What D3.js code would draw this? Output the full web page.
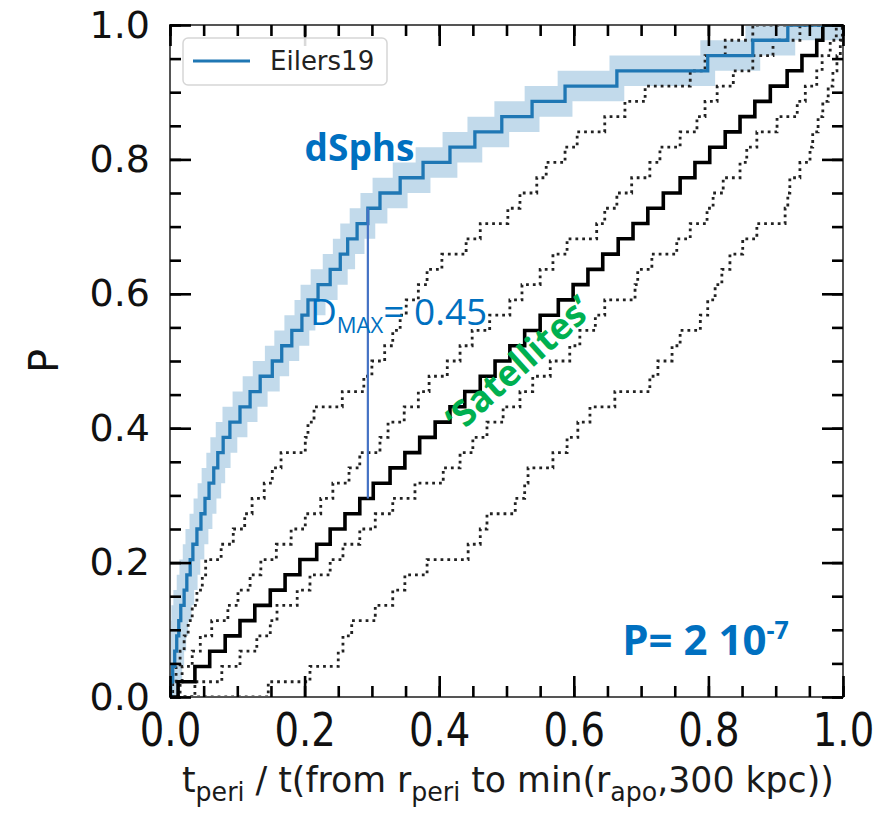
<!DOCTYPE html>
<html>
<head>
<meta charset="utf-8">
<script src="https://cdn.jsdelivr.net/npm/d3@7"></script>
<style>
  body { margin: 0; background: #fff; }
  svg { display: block; }
</style>
</head>
<body>
<svg id="chart"></svg>
<script>
// sorted sample values (x of every step)
const eilers19 = [0.001, 0.004, 0.007, 0.010, 0.013, 0.016, 0.021, 0.025, 0.030, 0.034,
  0.040, 0.046, 0.052, 0.058, 0.065, 0.071, 0.079, 0.089, 0.104, 0.119,
  0.134, 0.152, 0.166, 0.181, 0.196, 0.205, 0.220, 0.238, 0.253, 0.264,
  0.278, 0.294, 0.312, 0.342, 0.376, 0.416, 0.453, 0.493, 0.538, 0.587,
  0.664, 0.799, 0.866, 0.918];

const satellites = [0.012, 0.037, 0.059, 0.082, 0.104, 0.126, 0.149, 0.171, 0.193, 0.218,
  0.238, 0.260, 0.282, 0.302, 0.327, 0.349, 0.371, 0.394, 0.416, 0.438,
  0.461, 0.483, 0.505, 0.527, 0.550, 0.577, 0.599, 0.621, 0.643, 0.666,
  0.688, 0.710, 0.733, 0.758, 0.780, 0.802, 0.825, 0.847, 0.869, 0.892,
  0.917, 0.939, 0.961, 0.970];

// dotted envelopes, left to right
const envelope1 = [0.004, 0.009, 0.015, 0.021, 0.027, 0.033, 0.040, 0.048, 0.053, 0.076,
  0.094, 0.111, 0.122, 0.140, 0.152, 0.165, 0.201, 0.205, 0.214, 0.256,
  0.288, 0.300, 0.319, 0.331, 0.342, 0.351, 0.369, 0.382, 0.404, 0.440,
  0.461, 0.502, 0.520, 0.545, 0.559, 0.587, 0.605, 0.646, 0.676, 0.706,
  0.773, 0.795, 0.825, 0.866];

const envelope2 = [0.015, 0.018, 0.033, 0.045, 0.062, 0.086, 0.101, 0.119, 0.135, 0.158,
  0.180, 0.201, 0.224, 0.242, 0.266, 0.282, 0.312, 0.324, 0.348, 0.369,
  0.385, 0.412, 0.431, 0.449, 0.475, 0.505, 0.523, 0.550, 0.569, 0.590,
  0.634, 0.646, 0.664, 0.686, 0.713, 0.728, 0.758, 0.783, 0.795, 0.813,
  0.837, 0.866, 0.896, 0.936];

const envelope3 = [0.037, 0.077, 0.104, 0.129, 0.149, 0.159, 0.189, 0.208, 0.238, 0.257,
  0.282, 0.305, 0.331, 0.364, 0.406, 0.431, 0.450, 0.471, 0.495, 0.520,
  0.539, 0.565, 0.594, 0.609, 0.632, 0.646, 0.691, 0.695, 0.716, 0.753,
  0.773, 0.798, 0.807, 0.822, 0.847, 0.857, 0.872, 0.902, 0.932, 0.944,
  0.961, 0.969, 0.981, 0.990];

const envelope4 = [0.146, 0.208, 0.250, 0.257, 0.270, 0.305, 0.331, 0.349, 0.382, 0.443,
  0.461, 0.471, 0.513, 0.527, 0.532, 0.569, 0.590, 0.606, 0.624, 0.661,
  0.713, 0.725, 0.746, 0.758, 0.788, 0.799, 0.810, 0.820, 0.832, 0.851,
  0.872, 0.914, 0.918, 0.921, 0.936, 0.951, 0.955, 0.963, 0.970, 0.978,
  0.985, 0.991, 0.996, 0.999];

const majorTicks = [0.0, 0.2, 0.4, 0.6, 0.8, 1.0];
const minorTicks = d3.range(0, 21).map(i => i * 0.05);

const dmaxAt = 0.294;
const dmaxLabel = "0.45";
const pValue = "2 10";
const pExponent = "-7";

// half-width of the Eilers19 band: one step in P, a little in x
const BAND_STEPS = 1;
const BAND_DX = 0.011;

const WIDTH = 895;
const HEIGHT = 814;
const PLOT = { LEFT: 170, RIGHT: 843, TOP: 25, BOTTOM: 697 };

const BLUE = "#1f77b4";
const TEXT_BLUE = "#0070c0";

let svg = d3.select("#chart")
  .attr("width", WIDTH)
  .attr("height", HEIGHT);

let xScale = d3.scaleLinear().domain([0, 1]).range([PLOT.LEFT, PLOT.RIGHT]);
let yScale = d3.scaleLinear().domain([0, 1]).range([PLOT.BOTTOM, PLOT.TOP]);

svg.append("clipPath").attr("id", "plot-clip")
  .append("rect")
  .attr("x", PLOT.LEFT).attr("y", PLOT.TOP)
  .attr("width", PLOT.RIGHT - PLOT.LEFT)
  .attr("height", PLOT.BOTTOM - PLOT.TOP);

/**
 * Turn sorted samples into the vertices of a cumulative step curve
 */
function ecdfPoints(values) {
  let n = values.length;
  let pts = [[0, 0]];
  values.forEach((v, i) => pts.push([v, (i + 1) / n]));
  pts.push([1, 1]);
  return pts;
}

function ecdfAt(values, x) {
  return values.filter(v => v <= x).length / values.length;
}

/**
 * Expand step-after points into plain polygon vertices
 */
function stepVertices(pts) {
  let out = [pts[0]];
  for (let i = 1; i < pts.length; i++) {
    out.push([pts[i][0], pts[i - 1][1]]);
    out.push(pts[i]);
  }
  return out;
}

let stepLine = d3.line()
  .x(d => xScale(d[0]))
  .y(d => yScale(d[1]))
  .curve(d3.curveStepAfter);

let plot = svg.append("g").attr("clip-path", "url(#plot-clip)");

// uncertainty band around the Eilers19 curve
let nE = eilers19.length;
let upper = [[-1, Math.min(BAND_STEPS, nE) / nE]]
  .concat(eilers19.map((v, i) => [v - BAND_DX, Math.min(i + 1 + BAND_STEPS, nE) / nE]), [[1.2, 1]]);
let lower = [[-1, 0]]
  .concat(eilers19.map((v, i) => [v + BAND_DX, Math.max(i + 1 - BAND_STEPS, 0) / nE]), [[1.2, (nE - BAND_STEPS) / nE]]);
let bandPoly = stepVertices(upper).concat(stepVertices(lower).reverse());
plot.append("path")
  .datum(bandPoly)
  .attr("d", d3.line().x(d => xScale(d[0])).y(d => yScale(d[1])))
  .attr("fill", BLUE)
  .attr("fill-opacity", 0.27);

// dotted envelopes
[envelope1, envelope2, envelope3, envelope4].forEach(env => {
  plot.append("path")
    .datum(ecdfPoints(env))
    .attr("d", stepLine)
    .attr("fill", "none")
    .attr("stroke", "#222")
    .attr("stroke-width", 2.8)
    .attr("stroke-dasharray", "2.8 4");
});

// satellites
plot.append("path")
  .datum(ecdfPoints(satellites))
  .attr("d", stepLine)
  .attr("fill", "none")
  .attr("stroke", "#000")
  .attr("stroke-width", 3.6);

// dSphs (Eilers19)
plot.append("path")
  .datum(ecdfPoints(eilers19))
  .attr("d", stepLine)
  .attr("fill", "none")
  .attr("stroke", BLUE)
  .attr("stroke-width", 3.3);

// D_max marker
svg.append("line")
  .attr("x1", xScale(dmaxAt)).attr("x2", xScale(dmaxAt))
  .attr("y1", yScale(ecdfAt(eilers19, dmaxAt)))
  .attr("y2", yScale(ecdfAt(satellites, dmaxAt)))
  .attr("stroke", "#4472c4")
  .attr("stroke-width", 2.2);

// frame
svg.append("rect")
  .attr("x", PLOT.LEFT).attr("y", PLOT.TOP)
  .attr("width", PLOT.RIGHT - PLOT.LEFT)
  .attr("height", PLOT.BOTTOM - PLOT.TOP)
  .attr("fill", "none")
  .attr("stroke", "#555")
  .attr("stroke-width", 2);

// ticks on all four sides, pointing inwards
function addAxis(axisFn, scale, transform, ticks, size, labels) {
  let g = svg.append("g")
    .attr("transform", transform)
    .call(axisFn(scale)
      .tickValues(ticks)
      .tickSize(-size)
      .tickPadding(labels ? 16 : 0)
      .tickFormat(labels ? d3.format(".1f") : ""));
  g.select(".domain").remove();
  g.selectAll(".tick line").attr("stroke", "#000").attr("stroke-width", 2.6);
  return g;
}

addAxis(d3.axisBottom, xScale, `translate(0,${PLOT.BOTTOM})`, minorTicks, 11, false);
addAxis(d3.axisTop, xScale, `translate(0,${PLOT.TOP})`, minorTicks, 11, false);
addAxis(d3.axisLeft, yScale, `translate(${PLOT.LEFT},0)`, minorTicks, 11, false);
addAxis(d3.axisRight, yScale, `translate(${PLOT.RIGHT},0)`, minorTicks, 11, false);
addAxis(d3.axisTop, xScale, `translate(0,${PLOT.TOP})`, majorTicks, 21, false);
addAxis(d3.axisRight, yScale, `translate(${PLOT.RIGHT},0)`, majorTicks, 21, false);

let xAxis = addAxis(d3.axisBottom, xScale, `translate(0,${PLOT.BOTTOM})`, majorTicks, 21, true);
xAxis.selectAll(".tick text")
  .attr("font-family", "DejaVu Sans")
  .attr("font-size", 46)
  .attr("fill", "#111")
  .attr("transform", "scale(0.84,1)");

let yAxis = addAxis(d3.axisLeft, yScale, `translate(${PLOT.LEFT},0)`, majorTicks, 21, true);
yAxis.selectAll(".tick text")
  .attr("font-family", "DejaVu Sans")
  .attr("font-size", 38)
  .attr("fill", "#111")
  .attr("x", -20);

// axis titles
svg.append("text")
  .attr("transform", `translate(44,${(PLOT.TOP + PLOT.BOTTOM) / 2}) rotate(-90)`)
  .attr("text-anchor", "middle")
  .attr("dominant-baseline", "central")
  .attr("font-family", "DejaVu Sans")
  .attr("font-size", 40)
  .attr("fill", "#111")
  .text("P");

let xTitle = svg.append("text")
  .attr("font-family", "'Liberation Sans Narrow', 'DejaVu Sans Condensed', 'Liberation Sans', sans-serif")
  .attr("font-size", 33)
  .attr("fill", "#1a1a1a");
let prevSub = false;
[["t", false], ["peri", true], [" / t(from r", false], ["peri", true],
 [" to min(r", false], ["apo", true], [",300 kpc))", false]].forEach(([s, sub]) => {
  xTitle.append("tspan")
    .attr("font-size", sub ? 24 : 33)
    .attr("dy", sub ? 8 : (prevSub ? -8 : 0))
    .text(s);
  prevSub = sub;
});
{
  let w = xTitle.node().getComputedTextLength();
  let target = 652;
  xTitle.attr("transform", `translate(${508 - target / 2},792) scale(${target / w},1.08)`);
}

// legend
let legend = svg.append("g");
legend.append("rect")
  .attr("x", 183).attr("y", 38)
  .attr("width", 204).attr("height", 47)
  .attr("rx", 5)
  .attr("fill", "#fff")
  .attr("fill-opacity", 0.85)
  .attr("stroke", "#d6d6d6")
  .attr("stroke-width", 1.5);
legend.append("line")
  .attr("x1", 193).attr("x2", 250)
  .attr("y1", 61).attr("y2", 61)
  .attr("stroke", BLUE)
  .attr("stroke-width", 3);
legend.append("text")
  .attr("x", 270).attr("y", 61)
  .attr("dominant-baseline", "central")
  .attr("font-family", "DejaVu Sans")
  .attr("font-size", 26)
  .attr("fill", "#222")
  .text("Eilers19");

// annotations
const ANN_FONT = "'Open Sans', 'Noto Sans', sans-serif";

svg.append("text")
  .attr("x", xScale(0.2)).attr("y", yScale(0.797))
  .attr("font-family", ANN_FONT)
  .attr("font-weight", "bold")
  .attr("font-size", 37)
  .attr("fill", TEXT_BLUE)
  .text("dSphs");

let dmaxText = svg.append("text")
  .attr("x", xScale(0.208)).attr("y", yScale(0.554))
  .attr("font-family", ANN_FONT)
  .attr("font-size", 37)
  .attr("fill", TEXT_BLUE);
dmaxText.append("tspan").text("D");
dmaxText.append("tspan").attr("font-size", 22).attr("dy", 8).text("MAX");
dmaxText.append("tspan").attr("dy", -8).text("= " + dmaxLabel);

svg.append("text")
  .attr("transform", `translate(${xScale(0.517)},${yScale(0.497)}) rotate(-42)`)
  .attr("text-anchor", "middle")
  .attr("dominant-baseline", "central")
  .attr("font-family", ANN_FONT)
  .attr("font-weight", "bold")
  .attr("font-size", 36)
  .attr("fill", "#00b050")
  .text("\u2018Satellites\u2019");

let pText = svg.append("text")
  .attr("x", xScale(0.672)).attr("y", yScale(0.0625))
  .attr("font-family", ANN_FONT)
  .attr("font-weight", "bold")
  .attr("font-size", 42)
  .attr("fill", TEXT_BLUE);
pText.append("tspan").text("P= " + pValue);
pText.append("tspan").attr("font-size", 25).attr("dy", -16).text(pExponent);
</script>
</body>
</html>
